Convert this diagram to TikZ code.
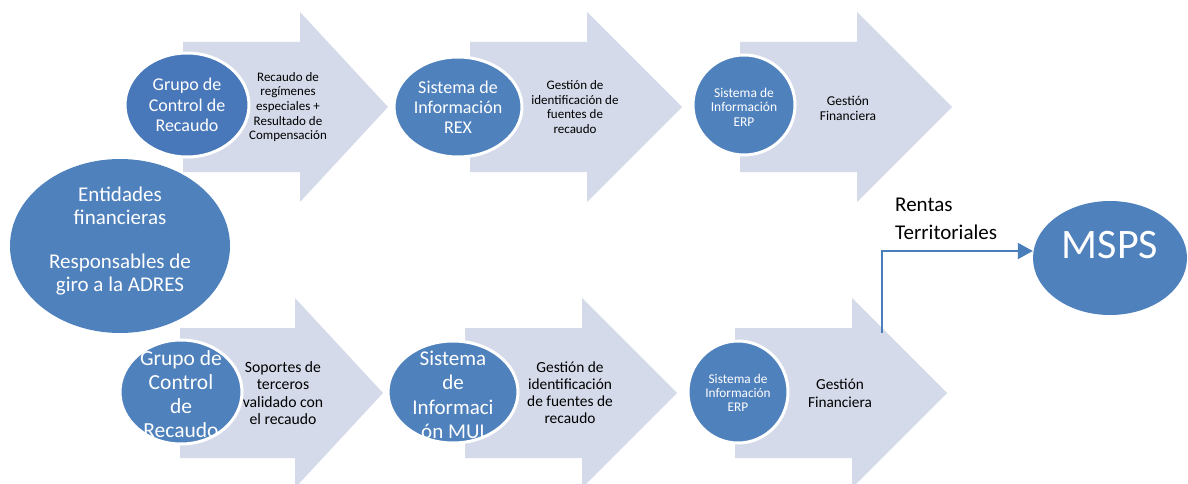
\documentclass[tikz,border=0pt]{standalone}
\usepackage{fontspec}
\setmainfont{Carlito}
\usetikzlibrary{shapes.geometric,arrows.meta}
\definecolor{circblue}{HTML}{4F81BD}
\definecolor{circdark}{HTML}{4878BA}
\definecolor{arrfill}{HTML}{D4DAE9}
\definecolor{lineblue}{HTML}{4A7EBB}
\newcommand\chevarrow[4]{%
  \fill[arrfill] (#1,#4-65) -- (#2,#4-65) -- (#2,#4-95) -- (#3,#4) -- (#2,#4+95) -- (#2,#4+65) -- (#1,#4+65) -- cycle;}
\begin{document}
\begin{tikzpicture}[x=1pt,y=-1pt,
  circ/.style={ellipse, fill=circblue, draw=white, line width=3pt, inner sep=0pt},
  plainell/.style={ellipse, fill=circblue, inner sep=0pt},
  ctext/.style={align=center, text=white, inner sep=0pt},
  lbl/.style={align=center, text=black, inner sep=0pt},
  conn/.style={draw=lineblue, line width=2pt, -{Triangle[length=15pt,width=16pt]}}
]
\useasboundingbox (0,0) rectangle (1188,484);
% chevron arrows
\chevarrow{183}{300}{388}{107}
\chevarrow{470}{587}{682}{107}
\chevarrow{740}{857}{952}{107}
\chevarrow{180}{295}{383}{393}
\chevarrow{465}{582}{677}{393}
\chevarrow{735}{852}{947}{393}
% labels in arrows
\node[lbl, font=\fontsize{13}{14.6}\selectfont] (t1) at (288,107) {Recaudo de\\regímenes\\especiales +\\Resultado de\\Compensación};
\node[lbl, font=\fontsize{13}{14.5}\selectfont] (t2) at (575,107) {Gestión de\\identificación de\\fuentes de\\recaudo};
\node[lbl, font=\fontsize{13.5}{15}\selectfont] (t3) at (848,108) {Gestión\\Financiera};
\node[lbl, font=\fontsize{15.7}{17.5}\selectfont] (bt1) at (283,393) {Soportes de\\terceros\\validado con\\el recaudo};
\node[lbl, font=\fontsize{15.4}{17}\selectfont] (bt2) at (570,393) {Gestión de\\identificación\\de fuentes de\\recaudo};
\node[lbl, font=\fontsize{15.3}{18}\selectfont] (bt3) at (840,393) {Gestión\\Financiera};
% circles top
\node[circ, fill=circdark, minimum width=124, minimum height=104] (c1) at (187,105) {};
\node[ctext, font=\fontsize{18}{20.5}\selectfont] at (c1) {Grupo de\\Control de\\Recaudo};
\node[circ, minimum width=128, minimum height=100] (c2) at (458,107) {};
\node[ctext, font=\fontsize{18}{20}\selectfont] at (c2) {Sistema de\\Información\\REX};
\node[circ, minimum width=102, minimum height=100] (c3) at (744,105) {};
\node[ctext, font=\fontsize{13.5}{14.5}\selectfont] at (744,107) {Sistema de\\Información\\ERP};
% circles bottom
\node[circ, minimum width=122, minimum height=104] (b1) at (181,392) {};
\node[ctext, font=\fontsize{21.5}{24}\selectfont] at (181,394) {Grupo de\\Control\\de\\Recaudo};
\node[circ, minimum width=130, minimum height=102] (b2) at (453,392) {};
\node[ctext, font=\fontsize{21}{24.5}\selectfont] at (453,395) {Sistema\\de\\Informaci\\ón MUI};
\node[circ, minimum width=100, minimum height=102] (b3) at (738,392) {};
\node[ctext, font=\fontsize{13.3}{14}\selectfont] at (738,393) {Sistema de\\Información\\ERP};
% entidades
\node[plainell, minimum width=220, minimum height=174] (ent) at (120,246) {};
\node[ctext, font=\fontsize{21}{22.5}\selectfont] at (120,241) {Entidades\\financieras\\[22pt]Responsables de\\giro a la ADRES};
% MSPS
\node[plainell, minimum width=154, minimum height=114] (msps) at (1110,258) {};
\node[ctext, font=\fontsize{42}{48}\selectfont] at (1110,245) {MSPS};
% rentas label
\node[lbl, align=left, anchor=west, font=\fontsize{21}{28}\selectfont] (rent) at (895,219) {Rentas\\Territoriales};
% connector
\coordinate (s) at (882,333);
\draw[conn] (s) |- ([yshift=7pt]msps.west);
\end{tikzpicture}
\end{document}
